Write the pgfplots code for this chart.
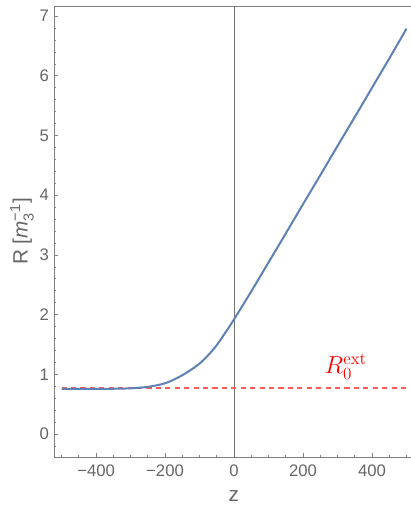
\documentclass[border=0pt]{standalone}
\usepackage{amsmath}
\usepackage[no-math]{fontspec}
\setmainfont{Liberation Sans}
\usepackage{pgfplots}
\pgfplotsset{compat=1.18}
\definecolor{mblue}{rgb}{0.368417,0.506779,0.709798}
\definecolor{axgray}{gray}{0.5}
\definecolor{txtgray}{gray}{0.4}
\begin{document}
\begin{tikzpicture}
\begin{axis}[
  scale only axis, width=249.9pt, height=315.7pt,
  xmin=-522, xmax=513, ymin=-0.385, ymax=7.17,
  axis x line=box, axis y line=left,
  axis line style={axgray, line width=0.6pt, -},
  x axis line style={-}, y axis line style={-},
  tick align=inside, xtick pos=left, ytick pos=left,
  tick style={axgray, line width=0.5pt},
  major tick length=2.9pt, minor tick length=1.7pt,
  xtick={-400,-200,0,200,400},
  xticklabels={−400,−200,0,200,400},
  minor xtick={-500,-450,...,500},
  ytick={0,1,...,7},
  minor ytick={-0.2,0.2,0.4,0.6,0.8,1.2,1.4,1.6,1.8,2.2,2.4,2.6,2.8,3.2,3.4,3.6,3.8,4.2,4.4,4.6,4.8,5.2,5.4,5.6,5.8,6.2,6.4,6.6,6.8,7.2},
  /pgf/number format/assume math mode=true,
  ticklabel style={font=\fontsize{11.7}{13}\selectfont, text=txtgray},
  xticklabel style={yshift=-1.8pt},
  xlabel={z},
  ylabel={R [\textit{m}$_{\text{3}}^{\text{−1}}$]},
  label style={font=\fontsize{14.5}{16}\selectfont, text=txtgray},
  xlabel style={at={(axis description cs:0.504,-0.087)}, anchor=center},
  ylabel style={at={(axis description cs:-0.0896,0.5)}, anchor=center},
  clip=false,
]
\addplot[black!55, line width=0.6pt] coordinates {(0,-0.385) (0,7.17)};
\addplot[red!65, line width=1.2pt, dash pattern=on 3.6pt off 3pt] coordinates {(-500,0.765) (500,0.765)};
\addplot[mblue, line width=1.4pt, smooth] coordinates {
(-500,0.755) (-450,0.755) (-400,0.756) (-350,0.758) (-300,0.765) (-275,0.775)
(-250,0.79) (-225,0.815) (-200,0.85) (-175,0.91) (-150,0.985) (-125,1.075)
(-100,1.18) (-75,1.32) (-50,1.49) (-25,1.70) (0,1.92) (50,2.39) (100,2.875)
(150,3.36) (200,3.85) (250,4.335) (300,4.825) (350,5.31) (400,5.80) (450,6.29) (500,6.79)
};
\node[red, font=\fontsize{18}{20}\selectfont] at (axis cs:324,1.13) {$R_0^{\mathrm{ext}}$};
\end{axis}
\pgfresetboundingbox
\useasboundingbox ([shift={(-37.8pt,-34.3pt)}]current axis.south west) rectangle ([shift={(0pt,4.2pt)}]current axis.north east);
\end{tikzpicture}
\end{document}
